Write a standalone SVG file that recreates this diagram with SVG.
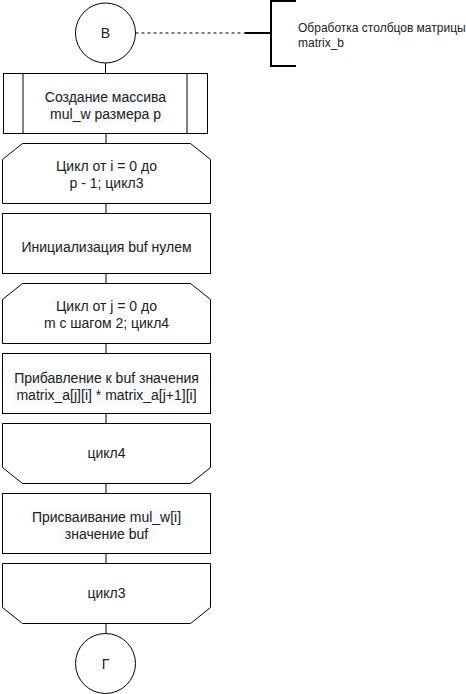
<svg xmlns="http://www.w3.org/2000/svg" width="466" height="694" viewBox="0 0 466 694">
  <style>
    .shape { fill: #ffffff; stroke: #000000; stroke-width: 1; }
    .edge { fill: none; stroke: #000000; stroke-width: 1; }
    .dash { fill: none; stroke: #000000; stroke-width: 1; stroke-dasharray: 3 3; }
    .bracket { fill: none; stroke: #000000; stroke-width: 2; }
    .lbl { font-family: "Liberation Sans", Arial, sans-serif; font-size: 14px; fill: #202124; text-anchor: middle; }
    .note { font-family: "Liberation Sans", Arial, sans-serif; font-size: 12px; fill: #202124; }
    .hl { fill: #f8f9fa; }
  </style>

  <!-- connectors -->
  <g id="connectors">
    <line class="edge" x1="105.5" y1="63" x2="105.5" y2="73.5"/>
    <line class="edge" x1="106" y1="133.5" x2="106" y2="143.5"/>
    <line class="edge" x1="106" y1="203.5" x2="106" y2="213.5"/>
    <line class="edge" x1="106" y1="273.5" x2="106" y2="283.5"/>
    <line class="edge" x1="106" y1="343.5" x2="106" y2="353.5"/>
    <line class="edge" x1="106" y1="413.5" x2="106" y2="423.5"/>
    <line class="edge" x1="106" y1="483.5" x2="106" y2="493.5"/>
    <line class="edge" x1="106" y1="553.5" x2="106" y2="563.5"/>
    <line class="edge" x1="106" y1="623.5" x2="106" y2="633.5"/>
    <line class="dash" x1="135.5" y1="33" x2="245" y2="33"/>
  </g>

  <!-- connector B -->
  <g id="start-b">
    <circle class="shape" cx="105.5" cy="33" r="30"/>
    <text class="lbl" x="105.5" y="38">В</text>
  </g>

  <!-- annotation -->
  <g id="note">
    <line class="bracket" x1="245" y1="33" x2="271" y2="33"/>
    <path class="bracket" d="M296 1 H271 V66 H296"/>
    <text class="note" x="298" y="32">Обработка столбцов матрицы</text>
    <text class="note" x="298" y="47">matrix_b</text>
  </g>

  <!-- predefined process -->
  <g id="create-array">
    <rect class="shape" x="3.5" y="73.5" width="204" height="60"/>
    <line class="edge" x1="23" y1="73.5" x2="23" y2="133.5"/>
    <line class="edge" x1="187" y1="73.5" x2="187" y2="133.5"/>
    <rect class="hl" x="45" y="89" width="122" height="16"/>
    <rect class="hl" x="48" y="106" width="116" height="17"/>
    <text class="lbl" x="105.5" y="102">Создание массива</text>
    <text class="lbl" x="105.5" y="119">mul_w размера p</text>
  </g>

  <!-- loop 3 start -->
  <g id="loop3-start">
    <path class="shape" d="M22.5 143.5 H190.5 L210.5 159.5 V203.5 H2.5 V159.5 Z"/>
    <text class="lbl" x="106.5" y="171">Цикл от i = 0 до</text>
    <text class="lbl" x="106.5" y="188">p - 1; цикл3</text>
  </g>

  <g id="init-buf">
    <rect class="shape" x="2.5" y="213.5" width="208" height="60"/>
    <rect class="hl" x="21" y="240" width="170" height="16"/>
    <text class="lbl" x="106.5" y="252">Инициализация buf нулем</text>
  </g>

  <!-- loop 4 start -->
  <g id="loop4-start">
    <path class="shape" d="M22.5 283.5 H190.5 L210.5 299.5 V343.5 H2.5 V299.5 Z"/>
    <text class="lbl" x="106.5" y="311">Цикл от j = 0 до</text>
    <text class="lbl" x="106.5" y="328">m с шагом 2; цикл4</text>
  </g>

  <g id="add-buf">
    <rect class="shape" x="2.5" y="353.5" width="208" height="60"/>
    <rect class="hl" x="13" y="370" width="183" height="34"/>
    <text class="lbl" x="106.5" y="383">Прибавление к buf значения</text>
    <text class="lbl" x="106.5" y="400">matrix_a[j][i] * matrix_a[j+1][i]</text>
  </g>

  <!-- loop 4 end -->
  <g id="loop4-end">
    <path class="shape" d="M2.5 423.5 H210.5 V467.5 L190.5 483.5 H22.5 L2.5 467.5 Z"/>
    <text class="lbl" x="106.5" y="458">цикл4</text>
  </g>

  <g id="assign">
    <rect class="shape" x="2.5" y="493.5" width="208" height="60"/>
    <rect class="hl" x="31" y="509" width="151" height="16"/>
    <rect class="hl" x="60" y="526" width="93" height="17"/>
    <text class="lbl" x="106.5" y="522">Присваивание mul_w[i]</text>
    <text class="lbl" x="106.5" y="539">значение buf</text>
  </g>

  <!-- loop 3 end -->
  <g id="loop3-end">
    <path class="shape" d="M2.5 563.5 H210.5 V607.5 L190.5 623.5 H22.5 L2.5 607.5 Z"/>
    <text class="lbl" x="106.5" y="598">цикл3</text>
  </g>

  <!-- connector G -->
  <g id="end-g">
    <circle class="shape" cx="105.5" cy="663.5" r="30"/>
    <text class="lbl" x="105.5" y="668.5">Г</text>
  </g>
</svg>
